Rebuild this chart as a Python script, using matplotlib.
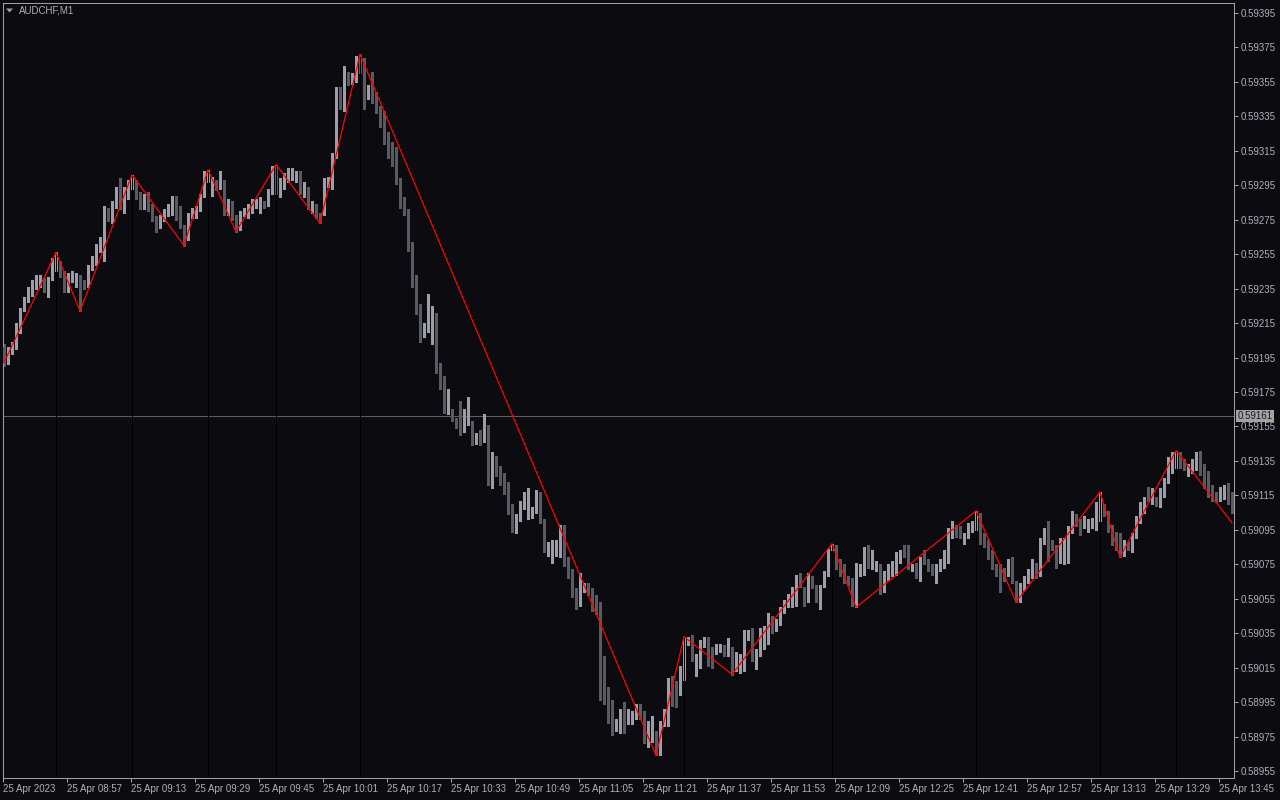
# candlestick chart of AUDCHF M1 with a zigzag overlay, mt-style dark theme

import numpy as np
import matplotlib.pyplot as plt
from matplotlib.patches import Polygon

plt.rcParams["font.family"] = ["Liberation Sans", "DejaVu Sans"]

bg_color = "#0b0b10"
text_color = "#aab0bc"
axis_color = "#a0a0a0"
bull_color = "#9e9eaa"
bear_color = "#5a5a62"

# prices in points (price * 1e5), one entry per 1 minute bar starting 08:41
opens = [
    59201, 59193, 59199, 59202, 59211, 59223, 59228, 59232, 59240, 59241,
    59239, 59235, 59241, 59247, 59249, 59243, 59235, 59241, 59242, 59242,
    59239, 59238, 59248, 59250, 59257, 59256, 59280, 59275, 59283, 59296,
    59280, 59289, 59296, 59295, 59289, 59283, 59289, 59282, 59275, 59274,
    59276, 59279, 59282, 59282, 59279, 59271, 59267, 59278, 59278, 59281,
    59289, 59298, 59290, 59296, 59295, 59295, 59280, 59284, 59277, 59271,
    59278, 59278, 59280, 59283, 59284, 59285, 59284, 59292, 59304, 59290,
    59295, 59300, 59300, 59299, 59301, 59290, 59292, 59281, 59282, 59278,
    59280, 59296, 59295, 59313, 59350, 59339, 59357, 59357, 59357, 59368,
    59357, 59347, 59350, 59347, 59339, 59336, 59324, 59318, 59315, 59297,
    59286, 59279, 59260, 59239, 59224, 59210, 59212, 59215, 59217, 59188,
    59182, 59164, 59163, 59159, 59159, 59154, 59158, 59156, 59147, 59151,
    59148, 59154, 59121, 59134, 59130, 59126, 59121, 59108, 59097, 59102,
    59109, 59103, 59104, 59107, 59110, 59099, 59082, 59084, 59082, 59081,
    59092, 59077, 59070, 59059, 59053, 59062, 59062, 59059, 59054, 59050,
    59020, 58997, 58994, 58981, 58979, 58991, 58984, 58987, 58986, 58990,
    58988, 58971, 58982, 58976, 58964, 58983, 58983, 59008, 59005, 59005,
    59010, 59030, 59032, 59017, 59017, 59030, 59030, 59024, 59025, 59026,
    59026, 59024, 59024, 59015, 59015, 59015, 59034, 59035, 59019, 59024,
    59032, 59031, 59041, 59038, 59042, 59049, 59052, 59052, 59053, 59068,
    59060, 59055, 59066, 59061, 59054, 59064, 59070, 59084, 59084, 59076,
    59073, 59066, 59065, 59054, 59070, 59071, 59084, 59074, 59074, 59073,
    59061, 59068, 59070, 59071, 59078, 59084, 59085, 59073, 59074, 59069,
    59080, 59076, 59073, 59069, 59074, 59075, 59083, 59092, 59096, 59095,
    59090, 59092, 59096, 59097, 59103, 59091, 59087, 59081, 59073, 59072,
    59070, 59070, 59077, 59063, 59055, 59062, 59066, 59069, 59074, 59070,
    59089, 59098, 59087, 59084, 59080, 59078, 59078, 59095, 59102, 59098,
    59098, 59098, 59098, 59097, 59109, 59108, 59104, 59096, 59092, 59091,
    59082, 59086, 59084, 59092, 59101, 59107, 59116, 59112, 59112, 59111,
    59116, 59124, 59130, 59134, 59138, 59134, 59129, 59130, 59132, 59140,
    59131, 59127, 59119, 59115, 59115, 59116, 59120, 59115,
]
highs = [
    59203, 59201, 59204, 59215, 59224, 59230, 59236, 59240, 59243, 59243,
    59241, 59242, 59253, 59256, 59251, 59245, 59244, 59245, 59244, 59243,
    59240, 59249, 59254, 59261, 59265, 59283, 59282, 59286, 59294, 59299,
    59294, 59298, 59301, 59298, 59291, 59290, 59291, 59284, 59277, 59278,
    59281, 59284, 59289, 59289, 59283, 59272, 59279, 59282, 59283, 59290,
    59303, 59304, 59300, 59298, 59303, 59298, 59287, 59286, 59278, 59280,
    59282, 59284, 59287, 59287, 59288, 59286, 59293, 59306, 59307, 59299,
    59302, 59305, 59305, 59303, 59303, 59297, 59294, 59286, 59284, 59279,
    59299, 59300, 59314, 59352, 59352, 59364, 59361, 59360, 59370, 59371,
    59369, 59353, 59361, 59349, 59341, 59338, 59326, 59320, 59317, 59299,
    59288, 59281, 59262, 59243, 59226, 59215, 59232, 59225, 59221, 59192,
    59184, 59177, 59165, 59160, 59170, 59165, 59172, 59158, 59151, 59153,
    59162, 59156, 59140, 59138, 59132, 59128, 59123, 59110, 59104, 59112,
    59117, 59119, 59108, 59118, 59117, 59101, 59088, 59089, 59089, 59098,
    59098, 59079, 59072, 59061, 59070, 59064, 59064, 59061, 59057, 59053,
    59022, 59004, 58996, 58985, 58991, 58995, 58991, 58990, 58994, 58994,
    58990, 58984, 58987, 58978, 58984, 58991, 59009, 59010, 59007, 59016,
    59033, 59033, 59034, 59023, 59031, 59033, 59033, 59027, 59029, 59029,
    59028, 59032, 59027, 59024, 59023, 59037, 59037, 59038, 59026, 59038,
    59039, 59047, 59045, 59043, 59050, 59054, 59058, 59062, 59069, 59070,
    59062, 59070, 59068, 59063, 59063, 59071, 59084, 59087, 59086, 59078,
    59075, 59068, 59067, 59076, 59075, 59085, 59086, 59083, 59077, 59075,
    59071, 59075, 59077, 59082, 59083, 59086, 59086, 59075, 59076, 59079,
    59083, 59078, 59075, 59075, 59078, 59083, 59096, 59100, 59098, 59097,
    59093, 59099, 59100, 59106, 59105, 59093, 59089, 59083, 59075, 59075,
    59073, 59078, 59079, 59065, 59064, 59068, 59072, 59078, 59076, 59090,
    59096, 59100, 59089, 59086, 59090, 59090, 59097, 59106, 59104, 59101,
    59103, 59101, 59102, 59111, 59117, 59110, 59106, 59098, 59094, 59093,
    59089, 59088, 59093, 59103, 59111, 59114, 59120, 59119, 59114, 59119,
    59125, 59137, 59140, 59141, 59140, 59136, 59133, 59136, 59140, 59141,
    59133, 59129, 59121, 59117, 59120, 59121, 59122, 59117,
]
lows = [
    59190, 59191, 59197, 59200, 59209, 59222, 59227, 59231, 59235, 59236,
    59233, 59230, 59240, 59245, 59242, 59233, 59233, 59239, 59236, 59222,
    59235, 59236, 59246, 59249, 59256, 59251, 59274, 59273, 59282, 59281,
    59279, 59287, 59293, 59287, 59281, 59281, 59280, 59274, 59268, 59270,
    59274, 59277, 59278, 59275, 59270, 59260, 59263, 59276, 59276, 59280,
    59288, 59297, 59289, 59292, 59293, 59278, 59278, 59275, 59268, 59269,
    59277, 59276, 59279, 59282, 59279, 59282, 59283, 59290, 59290, 59288,
    59293, 59297, 59298, 59297, 59290, 59288, 59281, 59279, 59276, 59273,
    59278, 59294, 59293, 59311, 59339, 59338, 59353, 59354, 59355, 59360,
    59339, 59345, 59343, 59337, 59329, 59319, 59311, 59306, 59296, 59282,
    59278, 59257, 59236, 59220, 59204, 59207, 59210, 59203, 59186, 59177,
    59163, 59162, 59158, 59154, 59150, 59152, 59156, 59144, 59145, 59144,
    59146, 59121, 59119, 59126, 59121, 59116, 59104, 59094, 59093, 59100,
    59107, 59101, 59102, 59105, 59099, 59082, 59080, 59076, 59080, 59079,
    59074, 59067, 59056, 59049, 59051, 59059, 59057, 59048, 59046, 58996,
    58994, 58983, 58976, 58978, 58977, 58977, 58982, 58982, 58985, 58985,
    58971, 58969, 58972, 58964, 58964, 58981, 58981, 58993, 58992, 58999,
    59008, 59028, 59019, 59010, 59015, 59027, 59016, 59015, 59023, 59024,
    59022, 59022, 59011, 59013, 59012, 59013, 59031, 59019, 59014, 59022,
    59026, 59029, 59035, 59036, 59040, 59047, 59050, 59050, 59051, 59062,
    59051, 59053, 59061, 59053, 59049, 59062, 59068, 59083, 59072, 59068,
    59064, 59063, 59051, 59050, 59068, 59069, 59073, 59072, 59071, 59058,
    59059, 59066, 59068, 59069, 59076, 59079, 59072, 59071, 59067, 59065,
    59075, 59071, 59069, 59064, 59071, 59073, 59076, 59090, 59091, 59090,
    59087, 59090, 59094, 59095, 59087, 59085, 59078, 59072, 59068, 59059,
    59065, 59068, 59064, 59053, 59053, 59060, 59064, 59067, 59067, 59068,
    59087, 59077, 59083, 59073, 59076, 59075, 59076, 59093, 59097, 59092,
    59096, 59094, 59096, 59095, 59100, 59103, 59094, 59086, 59083, 59079,
    59080, 59083, 59082, 59090, 59099, 59105, 59112, 59110, 59109, 59108,
    59114, 59122, 59128, 59131, 59131, 59130, 59126, 59128, 59130, 59127,
    59119, 59114, 59112, 59111, 59112, 59113, 59110, 59105,
]
closes = [
    59192, 59199, 59202, 59213, 59223, 59228, 59234, 59238, 59242, 59241,
    59236, 59240, 59252, 59249, 59244, 59234, 59242, 59243, 59242, 59239,
    59237, 59247, 59252, 59260, 59263, 59282, 59276, 59285, 59293, 59283,
    59292, 59296, 59297, 59289, 59284, 59288, 59283, 59276, 59272, 59275,
    59278, 59282, 59282, 59278, 59272, 59264, 59277, 59280, 59281, 59289,
    59301, 59303, 59293, 59294, 59297, 59279, 59285, 59277, 59269, 59278,
    59280, 59282, 59285, 59285, 59284, 59283, 59292, 59304, 59292, 59296,
    59300, 59300, 59301, 59300, 59291, 59293, 59283, 59284, 59279, 59277,
    59297, 59299, 59312, 59350, 59340, 59360, 59355, 59357, 59368, 59367,
    59346, 59351, 59345, 59339, 59332, 59321, 59315, 59314, 59298, 59288,
    59280, 59259, 59240, 59222, 59209, 59213, 59218, 59220, 59188, 59184,
    59165, 59164, 59160, 59157, 59153, 59163, 59166, 59147, 59149, 59147,
    59155, 59123, 59133, 59128, 59123, 59122, 59108, 59098, 59102, 59110,
    59115, 59113, 59106, 59112, 59101, 59084, 59084, 59087, 59087, 59093,
    59076, 59071, 59058, 59054, 59062, 59062, 59059, 59050, 59050, 59019,
    58999, 58992, 58979, 58983, 58990, 58983, 58989, 58987, 58990, 58989,
    58973, 58982, 58983, 58965, 58983, 58986, 59008, 58995, 58994, 59012,
    59031, 59032, 59021, 59020, 59029, 59030, 59018, 59017, 59026, 59027,
    59024, 59026, 59015, 59022, 59021, 59036, 59036, 59022, 59024, 59036,
    59037, 59041, 59037, 59041, 59048, 59052, 59055, 59054, 59066, 59064,
    59054, 59062, 59063, 59055, 59062, 59069, 59083, 59086, 59074, 59070,
    59066, 59065, 59053, 59074, 59073, 59083, 59075, 59076, 59074, 59060,
    59069, 59073, 59075, 59080, 59081, 59081, 59074, 59073, 59069, 59077,
    59077, 59073, 59071, 59073, 59076, 59081, 59095, 59098, 59093, 59092,
    59091, 59098, 59098, 59102, 59090, 59087, 59082, 59075, 59070, 59069,
    59069, 59076, 59066, 59057, 59062, 59066, 59070, 59076, 59069, 59088,
    59094, 59083, 59085, 59079, 59087, 59088, 59095, 59104, 59099, 59097,
    59100, 59098, 59100, 59109, 59110, 59105, 59096, 59088, 59088, 59081,
    59087, 59085, 59091, 59101, 59109, 59112, 59115, 59117, 59111, 59117,
    59123, 59135, 59138, 59140, 59134, 59133, 59131, 59134, 59138, 59129,
    59121, 59116, 59114, 59113, 59115, 59119, 59112, 59109,
]

# zigzag turning points (bar index, price in points)
zigzag_bars = [0, 13, 19, 32, 45, 51, 58, 68, 79, 89, 163, 170, 182, 207, 213,
               243, 253, 274, 279, 293, 307]
zigzag_prices = [59192, 59256, 59222, 59301, 59260, 59304, 59268, 59307, 59273,
                 59371, 58964, 59033, 59011, 59087, 59050, 59106, 59053, 59117,
                 59079, 59141, 59099]

# bars where the zigzag made a top (marked by a dark vertical line)
top_bars = [13, 32, 51, 68, 89, 170, 207, 243, 274, 293]

price_ticks = list(range(58955, 59396, 20))
time_tick_bars = list(range(0, 308, 16))
time_tick_labels = [
    "25 Apr 2023", "25 Apr 08:57", "25 Apr 09:13", "25 Apr 09:29",
    "25 Apr 09:45", "25 Apr 10:01", "25 Apr 10:17", "25 Apr 10:33",
    "25 Apr 10:49", "25 Apr 11:05", "25 Apr 11:21", "25 Apr 11:37",
    "25 Apr 11:53", "25 Apr 12:09", "25 Apr 12:25", "25 Apr 12:41",
    "25 Apr 12:57", "25 Apr 13:13", "25 Apr 13:29", "25 Apr 13:45",
]
current_price = 59161
symbol_label = "AUDCHF,M1"

o = np.array(opens) / 1e5
h = np.array(highs) / 1e5
l = np.array(lows) / 1e5
c = np.array(closes) / 1e5
x = np.arange(len(o))

fig = plt.figure(figsize=(12.8, 8), dpi=100, facecolor=bg_color)
ax = fig.add_axes([3 / 1280, 22 / 800, 1231 / 1280, 775 / 800])
ax.set_facecolor(bg_color)

y_top = 0.59395 + 10 / 172272.7
y_bottom = 0.58955 - 7 / 172272.7
ax.set_xlim(-0.25, 307.5)
ax.set_ylim(y_bottom, y_top)

# candles
up = c >= o
colors = np.where(up, bull_color, bear_color)
ax.vlines(x, l, h, colors=colors, linewidth=0.75, antialiased=False, zorder=2)
body_low = np.minimum(o, c)
body_h = np.maximum(np.abs(c - o), 0.6e-5)
ax.bar(x, body_h, bottom=body_low, width=0.75, color=colors, linewidth=0,
       antialiased=False, zorder=3)

# dark vertical lines below the zigzag tops
ax.vlines(top_bars, y_bottom, h[top_bars], colors="black", linewidth=0.5,
          antialiased=False, zorder=4)

# current price line
ax.axhline(current_price / 1e5, color="#5e5e66", linewidth=0.75, zorder=1)

# zigzag
ax.plot(zigzag_bars, np.array(zigzag_prices) / 1e5, color="#ff0000",
        linewidth=0.9, zorder=6)

# frame
for side in ["left", "right", "top", "bottom"]:
    ax.spines[side].set_color(axis_color)
    ax.spines[side].set_linewidth(0.75)

# price axis on the right
ax.yaxis.tick_right()
ax.set_yticks(np.array(price_ticks) / 1e5)
ax.set_yticklabels([f"{v / 1e5:.5f}" for v in price_ticks])
ax.tick_params(axis="y", colors=axis_color, labelcolor=text_color, length=3,
               width=0.75, pad=2, labelsize=7)

# time axis
ax.set_xticks(np.array(time_tick_bars) - 0.25)
ax.set_xticklabels(time_tick_labels)
for lab in ax.get_xticklabels():
    lab.set_horizontalalignment("left")
ax.tick_params(axis="x", colors=axis_color, labelcolor=text_color, length=3,
               width=0.75, pad=1.5, labelsize=7)

# current price tag
ax.annotate(f"{current_price / 1e5:.5f}", xy=(1, current_price / 1e5),
            xycoords=("axes fraction", "data"), xytext=(2.5, 0),
            textcoords="offset points", ha="left", va="center", fontsize=7,
            color="#1a1a1a", annotation_clip=False,
            bbox=dict(boxstyle="square,pad=0.12", fc="#a4a4a4", ec="none"))

# symbol label with the small triangle
fig.text(19 / 1280, 1 - 10.5 / 800, symbol_label, color=text_color, fontsize=7,
         ha="left", va="center")
tri = Polygon([(6 / 1280, 1 - 8.5 / 800), (13 / 1280, 1 - 8.5 / 800),
               (9.5 / 1280, 1 - 12.5 / 800)], closed=True,
              transform=fig.transFigure, fc="#a0a0a0", ec="none")
fig.patches.append(tri)

plt.savefig("out.png", dpi=100, facecolor=bg_color)
plt.close()
